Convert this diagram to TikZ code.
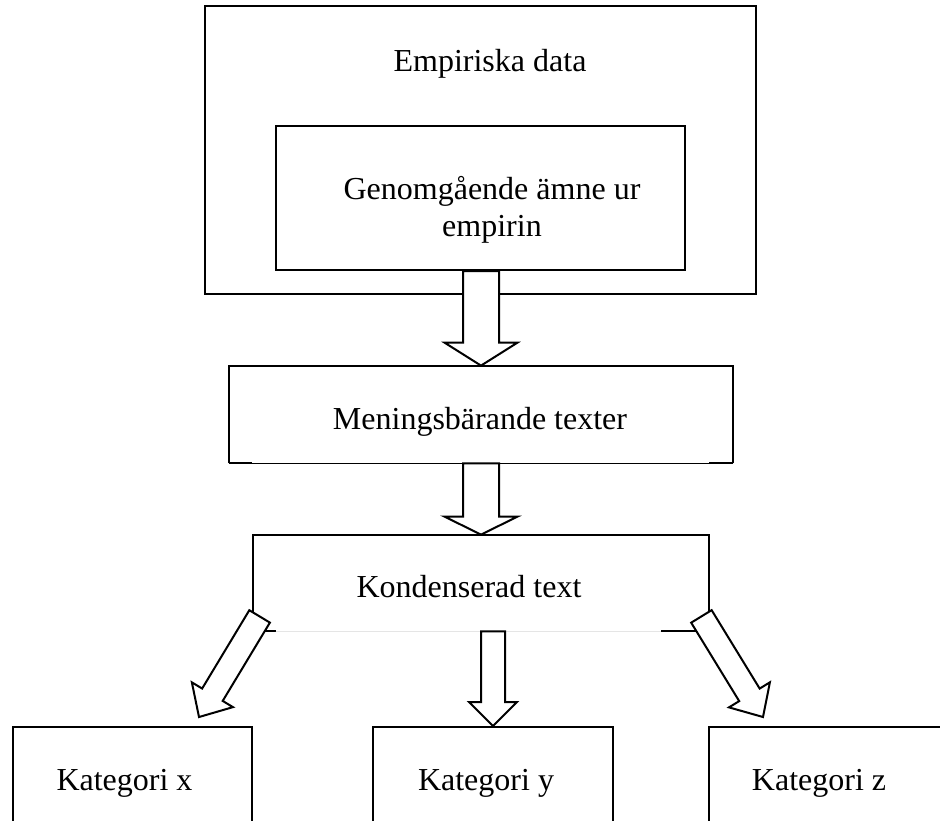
\documentclass[tikz,border=0pt]{standalone}
\usepackage{fontspec}
\setmainfont{Liberation Serif}
\usetikzlibrary{calc}
\newcommand\blockarrow[6][]{% #2 from, #3 to, #4 shaft half width, #5 head half width, #6 head length
  \coordinate (ba-h) at ($(#3)!#6!(#2)$);
  \draw[blockarr,#1] ($(#2)!#4!90:(#3)$) -- ($(ba-h)!#4!90:(#3)$) -- ($(ba-h)!#5!90:(#3)$) -- (#3)
    -- ($(ba-h)!#5!-90:(#3)$) -- ($(ba-h)!#4!-90:(#3)$) -- ($(#2)!#4!-90:(#3)$) -- cycle;}
\begin{document}
\begin{tikzpicture}[x=0.5pt,y=-0.5pt,
  every node/.style={font=\fontsize{16pt}{18.5pt}\selectfont},
  frame/.style={draw, line width=1pt, inner sep=0pt},
  area/.style={inner sep=0pt},
  txt/.style={anchor=base, inner sep=0pt, align=center},
  blockarr/.style={draw, line width=1pt, fill=white, line join=miter},
  edge/.style={line width=1pt},
  thinedge/.style={line width=0.5pt},
  faint/.style={line width=0.5pt, black!10}]
\useasboundingbox (0,0) rectangle (940,820);
\begin{scope}
\clip (0,0) rectangle (940,820);
% boxes
\node[frame, minimum width=275.5pt, minimum height=144pt] (outer) at (480.5,150) {};
\node[frame, minimum width=204.5pt, minimum height=72pt] (inner) at (480.5,198) {};
\node[area, minimum width=252pt, minimum height=48.5pt] (mening) at (481,414.5) {};
\draw[edge] (mening.south west) -- (mening.north west) -- (mening.north east) -- (mening.south east);
\draw[edge] (mening.south west) -- ++(23,0);
\draw[edge] (mening.south east) -- ++(-24,0);
\draw[thinedge] ($(mening.south west)+(23,0)$) -- ($(mening.south east)+(-24,0)$);
\node[area, minimum width=228pt, minimum height=48pt] (konden) at (481,583) {};
\draw[edge] (konden.south west) -- (konden.north west) -- (konden.north east) -- (konden.south east);
\draw[edge] (konden.south west) -- ++(23,0);
\draw[edge] (konden.south east) -- ++(-48,0);
\draw[faint] ($(konden.south west)+(23,0)$) -- ($(konden.south east)+(-48,0)$);
\node[frame, minimum width=119.5pt, minimum height=51.5pt] (katx) at (132.5,778.5) {};
\node[frame, minimum width=120pt, minimum height=51.5pt] (katy) at (493,778.5) {};
\node[frame, minimum width=120.5pt, minimum height=51.5pt] (katz) at (829.5,778.5) {};
% texts
\node[txt] (t-emp) at (490,71) {Empiriska data};
\node[txt] (t-gen) at (492,236) {Genomgående ämne ur\\empirin};
\node[txt] (t-men) at (480,429) {Meningsbärande texter};
\node[txt] (t-kon) at (469,597) {Kondenserad text};
\node[txt] (t-kx) at (124.5,790) {Kategori x};
\node[txt] (t-ky) at (486,790) {Kategori y};
\node[txt] (t-kz) at (819,790) {Kategori z};
% arrows
\coordinate (a1s) at (mening.north |- inner.south);
\blockarrow{a1s}{mening.north}{9pt}{18.25pt}{11.5pt}
\blockarrow{mening.south}{konden.north}{9pt}{18.25pt}{9pt}
\coordinate (a3s) at (katy.north |- konden.south);
\blockarrow{a3s}{katy.north}{6pt}{12pt}{12pt}
\coordinate (dl-s) at ($(konden.south west)+(7,-15)$);
\coordinate (dl-e) at ($(katx.north east)+(-54,-9)$);
\blockarrow{dl-s}{dl-e}{6pt}{12pt}{13pt}
\coordinate (dr-s) at ($(konden.south east)+(-8,-15)$);
\coordinate (dr-e) at ($(katz.north west)+(55,-9)$);
\blockarrow{dr-s}{dr-e}{6pt}{12pt}{13pt}
\end{scope}
\end{tikzpicture}
\end{document}
